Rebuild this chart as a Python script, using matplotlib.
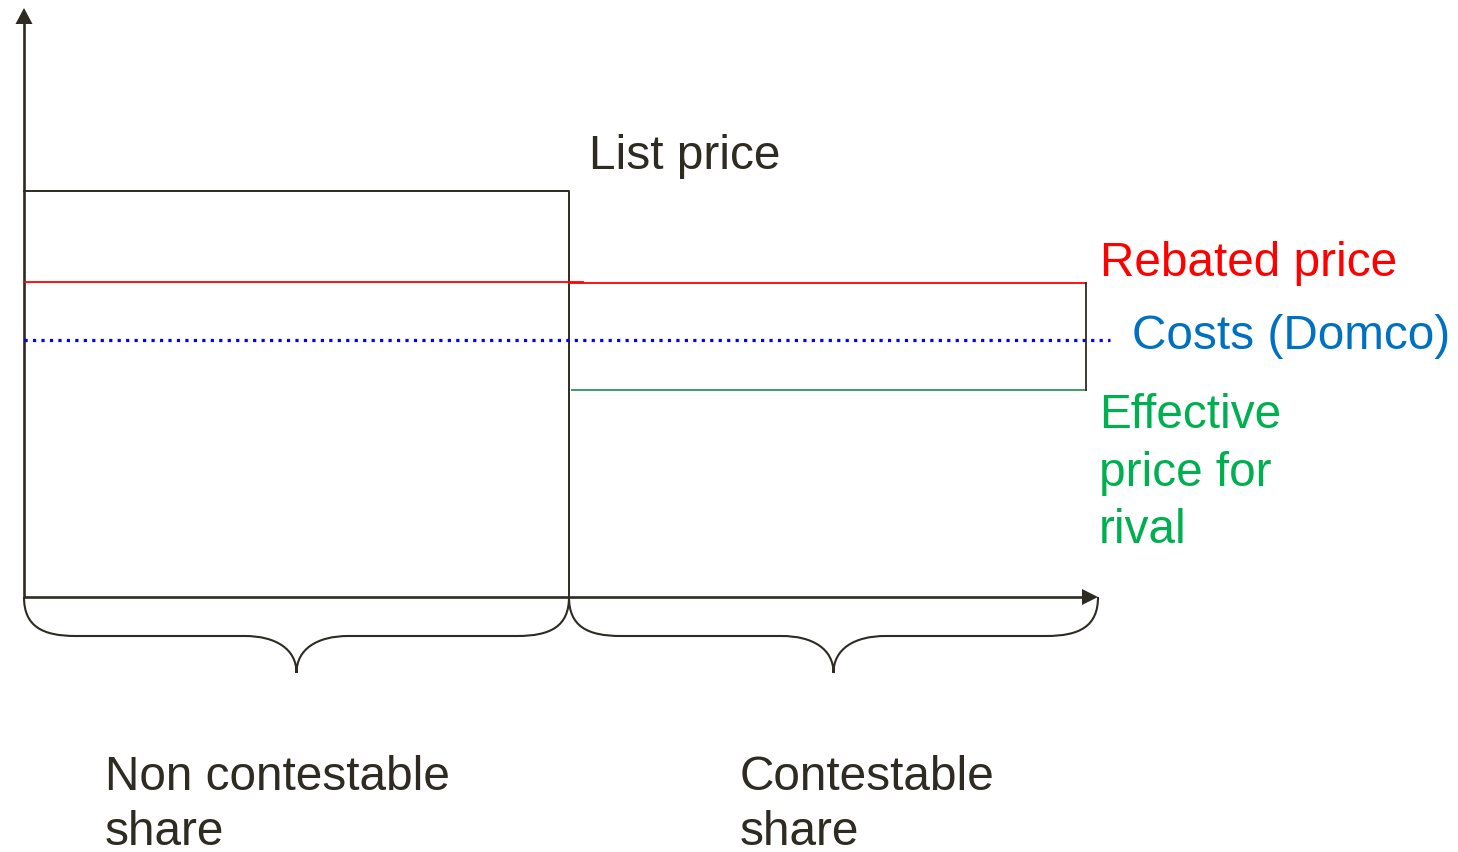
import matplotlib
matplotlib.use("Agg")
import matplotlib.pyplot as plt
from matplotlib.path import Path
from matplotlib.patches import PathPatch, Polygon

# ---- schematic values (diagram units, y grows downward) ----
x_origin = 24
y_origin = 597
x_split = 569          # boundary between non contestable and contestable share
x_end = 1086           # end of the contestable share price lines
x_axis_end = 1098
y_axis_top = 8
x_cost_end = 1110

list_price = 191
rebated_price = 282
cost_level = 340
effective_price = 390

brace_mid_y = 636
brace_tip_y = 673
brace_curve = 52

labels_right = ["Rebated price", "Costs (Domco)", "Effective\nprice for\nrival"]
share_labels = ["Non contestable\nshare", "Contestable\nshare"]

DARK = "#2d2b22"
RED = "#ff0000"
BLUE_DOT = "#0000ff"
GREEN_LINE = "#3f9a6e"
BLUE_TXT = "#0070c0"
GREEN_TXT = "#00b050"

plt.rcParams['font.family'] = ['Liberation Sans', 'DejaVu Sans']

fig = plt.figure(figsize=(14.58, 8.52), dpi=100)
ax = fig.add_axes([0, 0, 1, 1])
ax.set_xlim(0, 1458)
ax.set_ylim(852, 0)
ax.axis('off')

# axes with arrowheads
ax.plot([x_origin, x_origin], [y_origin, y_axis_top + 14], color=DARK, lw=1.9, solid_capstyle='butt')
ax.plot([x_origin, x_axis_end - 14], [y_origin, y_origin], color=DARK, lw=1.9, solid_capstyle='butt')
ax.add_patch(Polygon([[x_origin, y_axis_top], [x_origin - 8.5, y_axis_top + 16], [x_origin + 8.5, y_axis_top + 16]],
                     closed=True, color=DARK, lw=0))
ax.add_patch(Polygon([[x_axis_end, y_origin], [x_axis_end - 16, y_origin - 8], [x_axis_end - 16, y_origin + 8]],
                     closed=True, color=DARK, lw=0))

# list price box
ax.plot([x_origin, x_split, x_split], [list_price, list_price, y_origin], color=DARK, lw=1.4)

# rebated price
ax.plot([x_origin, x_split + 14], [rebated_price - 0.5, rebated_price - 0.5], color=RED, lw=1.3)
ax.plot([x_split, x_end], [rebated_price + 0.5, rebated_price + 0.5], color=RED, lw=1.3)

# costs
ax.plot([x_origin, x_cost_end], [cost_level, cost_level], color=BLUE_DOT, lw=2.3,
        linestyle=(0, (1, 1.65)))

# effective price
ax.plot([x_split + 3, x_end], [effective_price, effective_price], color=GREEN_LINE, lw=1.4)
ax.plot([x_end, x_end], [rebated_price + 1, effective_price], color=DARK, lw=1.3)


def brace(x0, x1):
    xm = (x0 + x1) / 2.0
    c = brace_curve
    verts = [
        (x0, y_origin),
        (x0, y_origin + (brace_mid_y - y_origin) * 0.75), (x0 + c * 0.35, brace_mid_y), (x0 + c, brace_mid_y),
        (xm - c, brace_mid_y),
        (xm - c * 0.4, brace_mid_y), (xm, brace_mid_y + (brace_tip_y - brace_mid_y) * 0.35), (xm, brace_tip_y),
        (xm, brace_mid_y + (brace_tip_y - brace_mid_y) * 0.35), (xm + c * 0.4, brace_mid_y), (xm + c, brace_mid_y),
        (x1 - c, brace_mid_y),
        (x1 - c * 0.35, brace_mid_y), (x1, y_origin + (brace_mid_y - y_origin) * 0.75), (x1, y_origin),
    ]
    codes = [Path.MOVETO,
             Path.CURVE4, Path.CURVE4, Path.CURVE4,
             Path.LINETO,
             Path.CURVE4, Path.CURVE4, Path.CURVE4,
             Path.CURVE4, Path.CURVE4, Path.CURVE4,
             Path.LINETO,
             Path.CURVE4, Path.CURVE4, Path.CURVE4]
    ax.add_patch(PathPatch(Path(verts, codes), fill=False, edgecolor=DARK, lw=1.5))


brace(x_origin, x_split)
brace(x_split, x_axis_end)

FS = 34.4


def lines(x, baselines, text, color):
    for yb, t in zip(baselines, text.split("\n")):
        ax.text(x, yb, t, fontsize=FS, color=color, ha='left', va='baseline')


lines(589, [169], "List price", DARK)
lines(1100, [276], labels_right[0], RED)
lines(1132, [349], labels_right[1], BLUE_TXT)
lines(1099, [428, 486, 543], labels_right[2], GREEN_TXT)
lines(105, [790, 845], share_labels[0], DARK)
lines(740, [790, 845], share_labels[1], DARK)

fig.savefig("out.png", dpi=100)
